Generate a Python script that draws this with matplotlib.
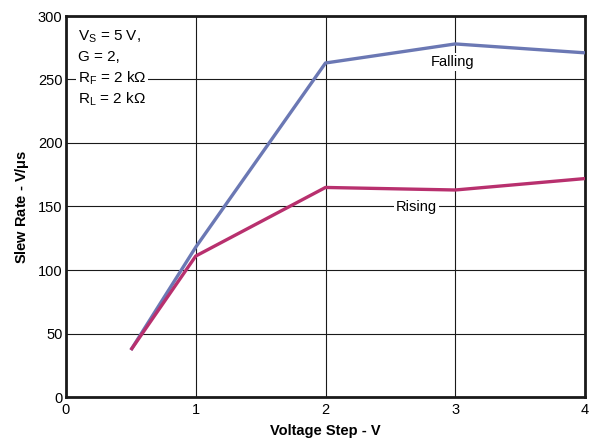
import matplotlib
matplotlib.use("Agg")
import matplotlib.pyplot as plt

plt.rcParams['font.family'] = ['Liberation Sans', 'DejaVu Sans']
plt.rcParams['mathtext.fontset'] = 'custom'
plt.rcParams['mathtext.rm'] = 'Liberation Sans'

# Slew rate versus output voltage step
step_v = [0.5, 1, 2, 3, 4]
falling = [37, 118, 263, 278, 271]
rising = [37, 111, 165, 163, 172]

x_ticks = [0, 1, 2, 3, 4]
y_ticks = [0, 50, 100, 150, 200, 250, 300]

conditions = [
    r"V$_\mathregular{S}$ = 5 V,",
    "G = 2,",
    r"R$_\mathregular{F}$ = 2 k$\Omega$",
    r"R$_\mathregular{L}$ = 2 k$\Omega$",
]

fig = plt.figure(figsize=(5.92, 4.44), dpi=100)
ax = fig.add_axes([66 / 592, 1 - 397 / 444, 519 / 592, 381 / 444])

ax.plot(step_v, falling, color='#6b78b4', lw=2.4, solid_capstyle='butt', zorder=3)
ax.plot(step_v, rising, color='#b8306e', lw=2.4, solid_capstyle='butt', zorder=3)

ax.set_xlim(0, 4)
ax.set_ylim(0, 300)
ax.set_xticks(x_ticks)
ax.set_yticks(y_ticks)
ax.grid(True, color='#1a1a1a', lw=0.8)
ax.set_axisbelow(True)
ax.tick_params(length=0, labelsize=10.5)
ax.tick_params(axis='y', pad=2.5)
ax.tick_params(axis='x', pad=4)
for sp in ax.spines.values():
    sp.set_linewidth(2)
    sp.set_color('#1a1a1a')

ax.set_xlabel("Voltage Step - V", fontsize=10.5, fontweight='bold', labelpad=5)
ax.set_ylabel(r"Slew Rate - V/$\mathregular{\mu}$s", fontsize=10.5, fontweight='bold', labelpad=5)

box = dict(facecolor='white', edgecolor='none', pad=1.5)
for i, line in enumerate(conditions):
    ax.text(0.09, 284 - i * 16.6, line, fontsize=11, ha='left', va='center',
            bbox=box, zorder=4)

ax.text(2.98, 264, "Falling", fontsize=10.5, ha='center', va='center', bbox=box, zorder=4)
ax.text(2.7, 150, "Rising", fontsize=10.5, ha='center', va='center', bbox=box, zorder=4)

fig.savefig("out.png", dpi=100)
